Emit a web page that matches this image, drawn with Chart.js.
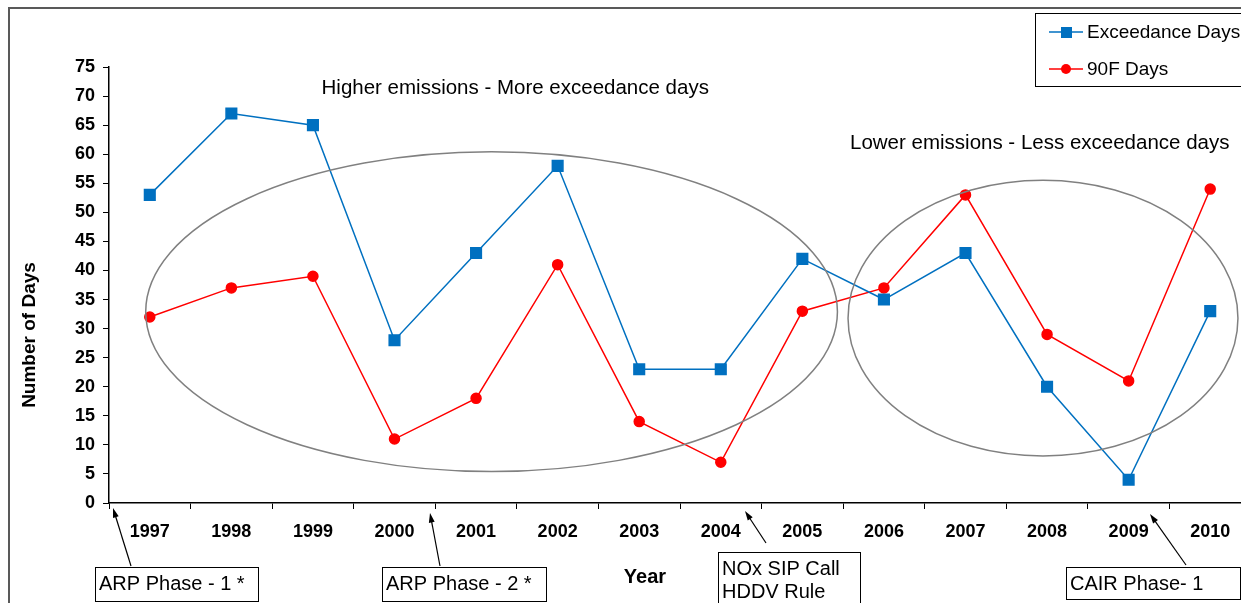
<!DOCTYPE html>
<html lang="en">
<head>
    <meta charset="UTF-8">
    <title>Exceedance Days vs 90F Days</title>
    <script src="https://cdn.jsdelivr.net/npm/chart.js"></script>
    <style>
        html, body {
            margin: 0;
            padding: 0;
            background: #ffffff;
            overflow: hidden;
        }
        canvas {
            display: block;
        }
    </style>
</head>
<body>
    <canvas id="chart" width="1280" height="603"></canvas>

    <script>
        const years = ['1997', '1998', '1999', '2000', '2001', '2002', '2003',
                       '2004', '2005', '2006', '2007', '2008', '2009', '2010'];
        const exceedanceDays = [53, 67, 65, 28, 43, 58, 23, 23, 42, 35, 43, 20, 4, 33];
        const hotDays = [32, 37, 39, 11, 18, 41, 14, 7, 33, 37, 53, 29, 21, 54];
        const yTicks = [0, 5, 10, 15, 20, 25, 30, 35, 40, 45, 50, 55, 60, 65, 70, 75];

        const FONT = 'Arial, "Liberation Sans", sans-serif';

        // ellipses drawn in data units: centre (category index, value), radii
        const ellipses = [
            { cx: 4.19, cy: 32.9, rx: 4.24, ry: 27.5 },
            { cx: 10.95, cy: 31.8, rx: 2.39, ry: 23.7 }
        ];
        const notes = [
            { text: 'Higher emissions - More exceedance days', cx: 4.48, cy: 71.4 },
            { text: 'Lower emissions - Less exceedance days', cx: 10.91, cy: 61.8 }
        ];

        // boxed labels under the axis with arrows
        const boxes = [
            { lines: ['ARP Phase - 1 *'], x: 95, y: 567, w: 163, h: 34, from: [131, 566], to: [113, 508] },
            { lines: ['ARP Phase - 2 *'], x: 382, y: 567, w: 164, h: 34, from: [440, 566], to: [430, 513] },
            { lines: ['NOx SIP Call', 'HDDV Rule'], x: 718, y: 552, w: 142, h: 60, from: [766, 543], to: [745, 511] },
            { lines: ['CAIR Phase- 1'], x: 1066, y: 567, w: 174, h: 32, from: [1186, 565], to: [1150, 514] }
        ];

        function arrow(ctx, x1, y1, x2, y2) {
            const a = Math.atan2(y2 - y1, x2 - x1);
            ctx.beginPath();
            ctx.moveTo(x1, y1);
            ctx.lineTo(x2 - 6 * Math.cos(a), y2 - 6 * Math.sin(a));
            ctx.stroke();
            ctx.beginPath();
            ctx.moveTo(x2, y2);
            ctx.lineTo(x2 - 10 * Math.cos(a - 0.3), y2 - 10 * Math.sin(a - 0.3));
            ctx.lineTo(x2 - 10 * Math.cos(a + 0.3), y2 - 10 * Math.sin(a + 0.3));
            ctx.closePath();
            ctx.fill();
        }

        const decorations = {
            id: 'decorations',
            beforeDraw(chart) {
                const ctx = chart.ctx;
                ctx.save();
                ctx.fillStyle = '#ffffff';
                ctx.fillRect(0, 0, chart.width, chart.height);
                ctx.strokeStyle = '#595959';
                ctx.lineWidth = 2;
                ctx.strokeRect(9, 8, 1400, 800);
                ctx.restore();
            },
            afterDatasetsDraw(chart) {
                const ctx = chart.ctx;
                const x = chart.scales.x, y = chart.scales.y;
                const catW = x.getPixelForValue(1) - x.getPixelForValue(0);
                const unitH = y.getPixelForValue(0) - y.getPixelForValue(1);
                ctx.save();

                ctx.strokeStyle = '#808080';
                ctx.lineWidth = 1.5;
                ellipses.forEach(e => {
                    ctx.beginPath();
                    ctx.ellipse(x.getPixelForValue(e.cx), y.getPixelForValue(e.cy),
                        e.rx * catW, e.ry * unitH, 0, 0, Math.PI * 2);
                    ctx.stroke();
                });

                ctx.fillStyle = '#000000';
                ctx.font = '20.5px ' + FONT;
                ctx.textAlign = 'center';
                ctx.textBaseline = 'middle';
                notes.forEach(n => {
                    ctx.fillText(n.text, x.getPixelForValue(n.cx), y.getPixelForValue(n.cy));
                });

                // axis titles
                ctx.font = 'bold 20px ' + FONT;
                ctx.fillText('Year', 645, 577);
                ctx.save();
                ctx.translate(30, 335);
                ctx.rotate(-Math.PI / 2);
                ctx.font = 'bold 19px ' + FONT;
                ctx.fillText('Number of Days', 0, 0);
                ctx.restore();

                // legend
                ctx.strokeStyle = '#000000';
                ctx.lineWidth = 1;
                ctx.fillStyle = '#ffffff';
                ctx.fillRect(1035.5, 13.5, 240, 73);
                ctx.strokeRect(1035.5, 13.5, 240, 73);
                const items = [
                    { label: 'Exceedance Days', color: '#0070C0', y: 32, square: true },
                    { label: '90F Days', color: '#FF0000', y: 69, square: false }
                ];
                items.forEach(it => {
                    ctx.strokeStyle = it.color;
                    ctx.fillStyle = it.color;
                    ctx.lineWidth = 1.5;
                    ctx.beginPath();
                    ctx.moveTo(1049, it.y);
                    ctx.lineTo(1083, it.y);
                    ctx.stroke();
                    if (it.square) {
                        ctx.fillRect(1061, it.y - 5, 11, 11);
                    } else {
                        ctx.beginPath();
                        ctx.arc(1066, it.y, 5, 0, Math.PI * 2);
                        ctx.fill();
                    }
                    ctx.fillStyle = '#000000';
                    ctx.font = '19px ' + FONT;
                    ctx.textAlign = 'left';
                    ctx.fillText(it.label, 1087, it.y + 1);
                });

                // boxed notes and arrows
                boxes.forEach(b => {
                    ctx.fillStyle = '#ffffff';
                    ctx.fillRect(b.x + 0.5, b.y + 0.5, b.w, b.h);
                    ctx.strokeStyle = '#000000';
                    ctx.lineWidth = 1;
                    ctx.strokeRect(b.x + 0.5, b.y + 0.5, b.w, b.h);
                    ctx.fillStyle = '#000000';
                    ctx.font = '20px ' + FONT;
                    ctx.textAlign = 'left';
                    ctx.textBaseline = 'middle';
                    b.lines.forEach((t, i) => {
                        ctx.fillText(t, b.x + 4, b.y + 17 + i * 23);
                    });
                    ctx.lineWidth = 1.2;
                    arrow(ctx, b.from[0], b.from[1], b.to[0], b.to[1]);
                });

                ctx.restore();
            }
        };

        const ctx = document.getElementById('chart').getContext('2d');
        new Chart(ctx, {
            type: 'line',
            data: {
                labels: years,
                datasets: [{
                    label: 'Exceedance Days',
                    data: exceedanceDays,
                    borderColor: '#0070C0',
                    backgroundColor: '#0070C0',
                    borderWidth: 1.5,
                    pointStyle: 'rect',
                    pointRadius: 7.5,
                    pointHoverRadius: 7.5,
                    tension: 0
                }, {
                    label: '90F Days',
                    data: hotDays,
                    borderColor: '#FF0000',
                    backgroundColor: '#FF0000',
                    borderWidth: 1.5,
                    pointStyle: 'circle',
                    pointRadius: 5,
                    pointHoverRadius: 5,
                    tension: 0
                }]
            },
            options: {
                responsive: false,
                animation: false,
                layout: {
                    padding: { left: 0, top: 67, right: 29, bottom: 0 }
                },
                plugins: {
                    legend: { display: false },
                    tooltip: { enabled: false }
                },
                scales: {
                    x: {
                        offset: true,
                        grid: {
                            offset: true,
                            drawOnChartArea: false,
                            drawTicks: true,
                            tickLength: 6,
                            color: '#000000'
                        },
                        border: { color: '#000000', width: 1.5 },
                        ticks: {
                            color: '#000000',
                            padding: 12,
                            maxRotation: 0,
                            font: { family: FONT, size: 18, weight: 'bold' }
                        },
                        afterFit(scale) { scale.height = 100; }
                    },
                    y: {
                        min: 0,
                        max: 75,
                        afterBuildTicks(scale) {
                            scale.ticks = yTicks.map(v => ({ value: v }));
                        },
                        grid: {
                            drawOnChartArea: false,
                            drawTicks: true,
                            tickLength: 6,
                            color: '#000000'
                        },
                        border: { color: '#000000', width: 1.5 },
                        ticks: {
                            color: '#000000',
                            padding: 8,
                            font: { family: FONT, size: 18, weight: 'bold' }
                        },
                        afterFit(scale) { scale.width = 109; }
                    }
                }
            },
            plugins: [decorations]
        });
    </script>
</body>
</html>
